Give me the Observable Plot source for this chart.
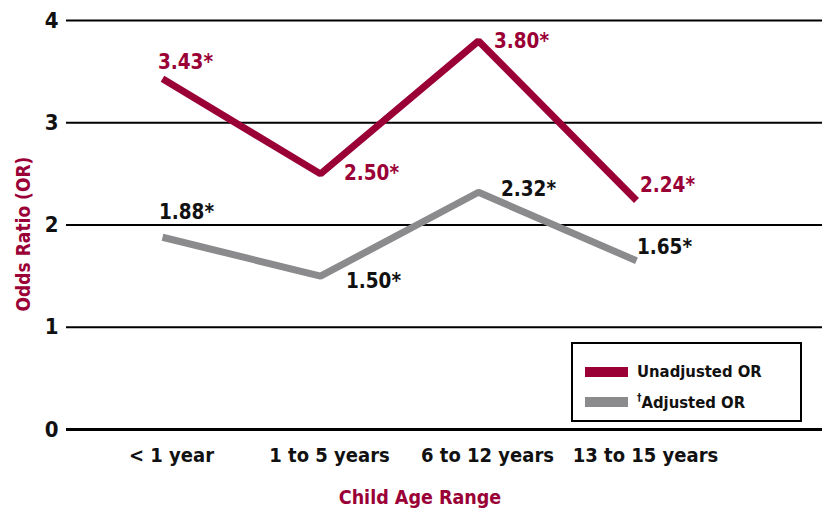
<!DOCTYPE html>
<html>
<head>
<meta charset="utf-8">
<script src="https://cdn.jsdelivr.net/npm/d3@7"></script>
<script src="https://cdn.jsdelivr.net/npm/@observablehq/plot@0.6"></script>
<style>
  html, body { margin: 0; padding: 0; background: #fff; }
  #wrap { position: relative; width: 822px; height: 510px; font-family: "DejaVu Sans Condensed", "DejaVu Sans", sans-serif; font-weight: bold; }
  #ylabel { position: absolute; left: 23px; top: 234px; transform: translate(-50%, -50%) rotate(-90deg); color: #9a0036; font-size: 19px; white-space: nowrap; }
  #xlabel { position: absolute; left: 420px; top: 497px; transform: translate(-50%, -50%); color: #9a0036; font-size: 19.5px; white-space: nowrap; }
  #legend { position: absolute; left: 571px; top: 342px; width: 227px; height: 76px; border: 2px solid #000; font-size: 16.5px; color: #111; }
  .item { position: absolute; left: 12px; display: flex; align-items: center; }
  .sw { width: 43px; height: 10px; margin-right: 9px; }
</style>
</head>
<body>
<div id="wrap">
  <div id="chart"></div>
  <div id="ylabel">Odds Ratio (OR)</div>
  <div id="xlabel">Child Age Range</div>
  <div id="legend"></div>
</div>
<script>
const categories = ["< 1 year", "1 to 5 years", "6 to 12 years", "13 to 15 years"];
const unadjusted = [3.43, 2.50, 3.80, 2.24];
const adjusted = [1.88, 1.50, 2.32, 1.65];
const unadjustedLabels = ["3.43*", "2.50*", "3.80*", "2.24*"];
const adjustedLabels = ["1.88*", "1.50*", "2.32*", "1.65*"];
const yTicks = [0, 1, 2, 3, 4];
const seriesNames = ["Unadjusted OR", "\u2020Adjusted OR"];
const colors = ["#9a0036", "#8b8b8d"];

const rows = [];
categories.forEach((c, i) => {
  rows.push({cat: c, series: seriesNames[0], value: unadjusted[i], label: unadjustedLabels[i], i});
  rows.push({cat: c, series: seriesNames[1], value: adjusted[i], label: adjustedLabels[i], i});
});
const uRows = rows.filter(d => d.series === seriesNames[0]);
const aRows = rows.filter(d => d.series === seriesNames[1]);

// label offsets relative to each vertex
const uOff = [[23, -16], [51, 0], [43, 0], [31, -15]];
const aOff = [[24, -25], [53, 5], [50, -3], [28, -13]];

const font = "DejaVu Sans Condensed, DejaVu Sans, sans-serif";

function labelMarks(data, off, fill) {
  return data.map((d, k) => Plot.text([d], {
    x: "cat", y: "value", text: "label", fill,
    dx: off[k][0], dy: off[k][1],
    fontSize: 20.5, fontWeight: "bold", fontFamily: font, textAnchor: "middle"
  }));
}

const chart = Plot.plot({
  width: 822,
  height: 510,
  marginLeft: 66,
  marginRight: 0,
  marginTop: 20,
  marginBottom: 81,
  style: {fontFamily: font, fontWeight: "bold", background: "#fff", color: "#111"},
  x: {type: "point", domain: categories, range: [161, 636], padding: 0},
  y: {domain: [0, 4], ticks: yTicks},
  marks: [
    Plot.ruleY(yTicks.filter(t => t !== 0), {stroke: "#000", strokeWidth: 2}),
    Plot.ruleY([0], {stroke: "#000", strokeWidth: 3}),
    Plot.axisY(yTicks, {tickSize: 0, tickPadding: 8, tickFormat: d => String(d), fontSize: 22, fontWeight: "bold", fill: "#111", label: null}),
    Plot.axisX({tickSize: 0, tickPadding: 18, dx: 9, fontSize: 20, fontWeight: "bold", fill: "#111", label: null}),
    Plot.line(aRows, {x: "cat", y: "value", stroke: colors[1], strokeWidth: 7, strokeLinejoin: "miter", strokeLinecap: "butt"}),
    Plot.line(uRows, {x: "cat", y: "value", stroke: colors[0], strokeWidth: 7, strokeLinejoin: "miter", strokeLinecap: "butt"}),
    ...labelMarks(uRows, uOff, colors[0]),
    ...labelMarks(aRows, aOff, "#111")
  ]
});
document.getElementById("chart").appendChild(chart);

const legend = document.getElementById("legend");
seriesNames.forEach((name, i) => {
  const item = document.createElement("div");
  item.className = "item";
  item.style.top = (i === 0 ? 18 : 48) + "px";
  const sw = document.createElement("div");
  sw.className = "sw";
  sw.style.background = colors[i];
  const tx = document.createElement("span");
  if (name.startsWith("\u2020")) {
    tx.innerHTML = '<sup style="font-size:10px">\u2020</sup>' + name.slice(1);
  } else {
    tx.textContent = name;
  }
  item.appendChild(sw);
  item.appendChild(tx);
  legend.appendChild(item);
});
</script>
</body>
</html>
